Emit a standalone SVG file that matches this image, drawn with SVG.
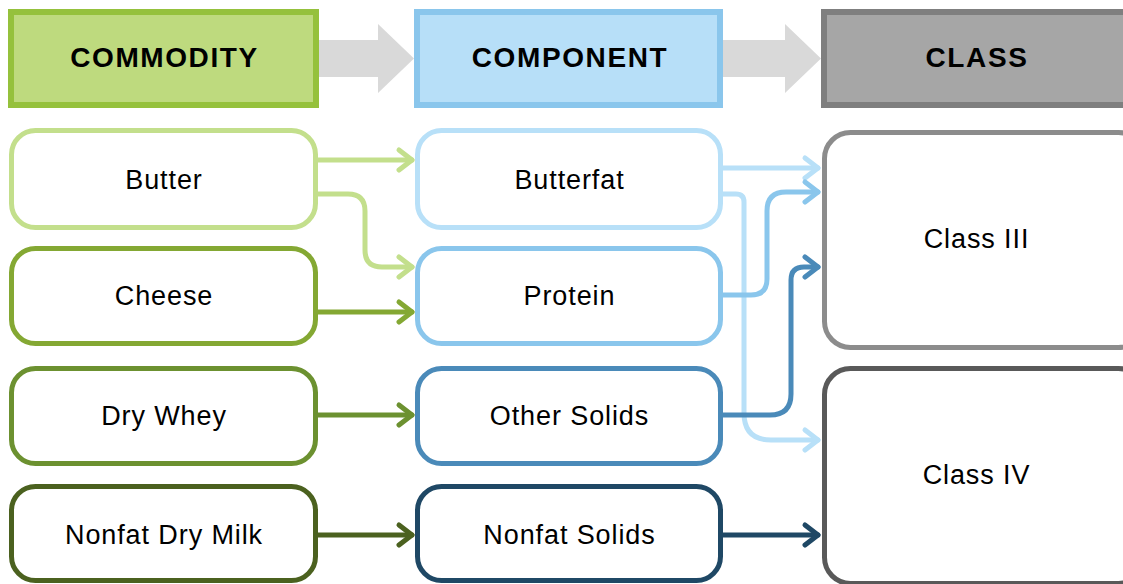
<svg xmlns="http://www.w3.org/2000/svg" width="1123" height="584" viewBox="0 0 1123 584">
<style>
.hdr{font-family:"Liberation Sans",Arial,sans-serif;font-weight:bold;font-size:28px;letter-spacing:1.6px;text-anchor:middle;fill:#000}
.lbl{font-family:"Liberation Sans",Arial,sans-serif;font-size:27px;letter-spacing:0.9px;text-anchor:middle;fill:#000}
.node{fill:#fff;stroke-width:5}
.con{fill:none;stroke-width:5;stroke-linecap:round;stroke-linejoin:round}
.bigarrow{fill:#D9D9D9}
</style>
<defs>
<marker id="m1" markerUnits="userSpaceOnUse" markerWidth="30" markerHeight="30" refX="0" refY="0" viewBox="-20 -15 25 30" orient="auto"><path d="M-13,-10 L0,0 L-13,10" fill="none" stroke="#C3DF8C" stroke-width="5" stroke-linecap="round" stroke-linejoin="round"/></marker>
<marker id="m2" markerUnits="userSpaceOnUse" markerWidth="30" markerHeight="30" refX="0" refY="0" viewBox="-20 -15 25 30" orient="auto"><path d="M-13,-10 L0,0 L-13,10" fill="none" stroke="#84A833" stroke-width="5" stroke-linecap="round" stroke-linejoin="round"/></marker>
<marker id="m3" markerUnits="userSpaceOnUse" markerWidth="30" markerHeight="30" refX="0" refY="0" viewBox="-20 -15 25 30" orient="auto"><path d="M-13,-10 L0,0 L-13,10" fill="none" stroke="#6C9130" stroke-width="5" stroke-linecap="round" stroke-linejoin="round"/></marker>
<marker id="m4" markerUnits="userSpaceOnUse" markerWidth="30" markerHeight="30" refX="0" refY="0" viewBox="-20 -15 25 30" orient="auto"><path d="M-13,-10 L0,0 L-13,10" fill="none" stroke="#4B611F" stroke-width="5" stroke-linecap="round" stroke-linejoin="round"/></marker>
<marker id="b1" markerUnits="userSpaceOnUse" markerWidth="30" markerHeight="30" refX="0" refY="0" viewBox="-20 -15 25 30" orient="auto"><path d="M-13,-10 L0,0 L-13,10" fill="none" stroke="#B8E0F8" stroke-width="5" stroke-linecap="round" stroke-linejoin="round"/></marker>
<marker id="b2" markerUnits="userSpaceOnUse" markerWidth="30" markerHeight="30" refX="0" refY="0" viewBox="-20 -15 25 30" orient="auto"><path d="M-13,-10 L0,0 L-13,10" fill="none" stroke="#8AC6EC" stroke-width="5" stroke-linecap="round" stroke-linejoin="round"/></marker>
<marker id="b3" markerUnits="userSpaceOnUse" markerWidth="30" markerHeight="30" refX="0" refY="0" viewBox="-20 -15 25 30" orient="auto"><path d="M-13,-10 L0,0 L-13,10" fill="none" stroke="#4A8AB9" stroke-width="5" stroke-linecap="round" stroke-linejoin="round"/></marker>
<marker id="b4" markerUnits="userSpaceOnUse" markerWidth="30" markerHeight="30" refX="0" refY="0" viewBox="-20 -15 25 30" orient="auto"><path d="M-13,-10 L0,0 L-13,10" fill="none" stroke="#1F4865" stroke-width="5" stroke-linecap="round" stroke-linejoin="round"/></marker>
</defs>
<rect width="1123" height="584" fill="#fff"/>

<g id="header-arrows">
<path class="bigarrow" d="M319,40 H378 V24 L414,58.5 L378,93 V77 H319 Z"/>
<path class="bigarrow" d="M723,40 H785 V24 L821,58.5 L785,93 V77 H723 Z"/>
</g>

<g id="hdr-commodity">
<rect x="11" y="12" width="305" height="93" fill="#BEDA7E" stroke="#95C13C" stroke-width="6"/>
<text class="hdr" x="164.5" y="67">COMMODITY</text>
</g>
<g id="hdr-component">
<rect x="417" y="12" width="303" height="93" fill="#B7DFF8" stroke="#8AC6EC" stroke-width="6"/>
<text class="hdr" x="570" y="67">COMPONENT</text>
</g>
<g id="hdr-class">
<rect x="824" y="12" width="310" height="93" fill="#A6A6A6" stroke="#7F7F7F" stroke-width="6"/>
<text class="hdr" x="977" y="67">CLASS</text>
</g>

<g id="connectors">
<path class="con" stroke="#C3DF8C" d="M318,160 H412" marker-end="url(#m1)"/>
<path class="con" stroke="#C3DF8C" d="M318,194 H348 Q365,194 365,211 V250 Q365,267 382,267 H412" marker-end="url(#m1)"/>
<path class="con" stroke="#84A833" d="M318,312 H412" marker-end="url(#m2)"/>
<path class="con" stroke="#6C9130" d="M318,415 H412" marker-end="url(#m3)"/>
<path class="con" stroke="#4B611F" d="M318,535 H412" marker-end="url(#m4)"/>
<path class="con" stroke="#B8E0F8" d="M723,168 H818" marker-end="url(#b1)"/>
<path class="con" stroke="#B8E0F8" d="M723,194 H736 Q744,194 744,202 V413 Q744,440 771,440 H818" marker-end="url(#b1)"/>
<path class="con" stroke="#8AC6EC" d="M723,295 H751 Q767,295 767,279 V211 Q767,192 786,192 H818" marker-end="url(#b2)"/>
<path class="con" stroke="#4A8AB9" d="M723,415 H770 Q791,415 791,394 V280 Q791,267 804,267 H818" marker-end="url(#b3)"/>
<path class="con" stroke="#1F4865" d="M723,535 H818" marker-end="url(#b4)"/>
</g>

<g id="n-butter">
<rect class="node" x="11.5" y="130.5" width="304" height="97" rx="24" stroke="#C3DF8C"/>
<text class="lbl" x="164" y="189">Butter</text>
</g>
<g id="n-cheese">
<rect class="node" x="11.5" y="248.5" width="304" height="95" rx="24" stroke="#84A833"/>
<text class="lbl" x="164" y="305">Cheese</text>
</g>
<g id="n-drywhey">
<rect class="node" x="11.5" y="368.5" width="304" height="95" rx="24" stroke="#6C9130"/>
<text class="lbl" x="164" y="425">Dry Whey</text>
</g>
<g id="n-ndm">
<rect class="node" x="11.5" y="486.5" width="304" height="94" rx="24" stroke="#4B611F"/>
<text class="lbl" x="164" y="544">Nonfat Dry Milk</text>
</g>

<g id="n-butterfat">
<rect class="node" x="417.5" y="130.5" width="303" height="97" rx="24" stroke="#B8E0F8"/>
<text class="lbl" x="569.5" y="189">Butterfat</text>
</g>
<g id="n-protein">
<rect class="node" x="417.5" y="248.5" width="303" height="95" rx="24" stroke="#8AC6EC"/>
<text class="lbl" x="569.5" y="305">Protein</text>
</g>
<g id="n-othersolids">
<rect class="node" x="417.5" y="368.5" width="303" height="95" rx="24" stroke="#4A8AB9"/>
<text class="lbl" x="569.5" y="425">Other Solids</text>
</g>
<g id="n-nonfatsolids">
<rect class="node" x="417.5" y="486.5" width="303" height="94" rx="24" stroke="#1F4865"/>
<text class="lbl" x="569.5" y="544">Nonfat Solids</text>
</g>

<g id="n-class3">
<rect class="node" x="824.5" y="132.5" width="320" height="215" rx="26" stroke="#8C8C8C"/>
<text class="lbl" x="976.5" y="248">Class III</text>
</g>
<g id="n-class4">
<rect class="node" x="824.5" y="368.5" width="320" height="215" rx="26" stroke="#595959"/>
<text class="lbl" x="976.5" y="484">Class IV</text>
</g>
</svg>
